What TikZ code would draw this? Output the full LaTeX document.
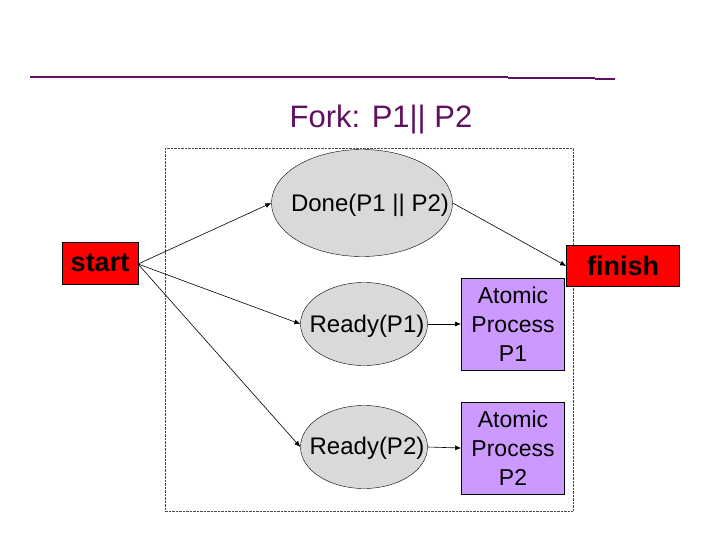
\documentclass[tikz,border=0pt]{standalone}
\usepackage{fontspec}
\setmainfont{Liberation Sans}
\usetikzlibrary{shapes.geometric,arrows.meta}
\definecolor{plum}{RGB}{96,16,96}
\definecolor{lav}{RGB}{204,153,255}
\begin{document}
\begin{tikzpicture}[x=1pt,y=-1pt,
  state/.style={ellipse,draw=black,fill=black!15,inner sep=0pt},
  lbl/.style={font=\fontsize{24}{30}\selectfont,inner sep=0pt},
  atom/.style={draw=black,thick,fill=lav,minimum width=103pt,minimum height=92pt,align=center,font=\fontsize{23}{29}\selectfont},
  term/.style={draw=black,thick,fill=red,font=\bfseries\fontsize{27}{30}\selectfont,inner sep=2pt},
  arr/.style={semithick,-{Latex[length=6pt,width=5pt]}}]
\useasboundingbox (0,0) rectangle (720,540);
\draw[plum,line width=2pt] (30,77) -- (508,77);
\draw[plum,line width=1.5pt] (508,78) -- (595,78);
\draw[plum,line width=2.5pt] (595,79) -- (615,79);
\node[plum,font=\fontsize{31}{36}\selectfont] (title) at (381,120) {Fork: P1|| P2};
\draw[densely dotted,black!70] (165,148) rectangle (573,511);
\node[state,minimum width=181pt,minimum height=107pt] (done) at (362,203) {};
\node[lbl] (donetxt) at (370,205) {Done(P1 || P2)};
\node[state,minimum width=127pt,minimum height=83pt] (r1) at (364,324) {};
\node[lbl] (r1txt) at (367,326) {Ready(P1)};
\node[state,minimum width=127pt,minimum height=83pt] (r2) at (364,447) {};
\node[lbl] (r2txt) at (367,448) {Ready(P2)};
\node[atom] (a1) at (513,324) {Atomic\\Process\\P1};
\node[atom] (a2) at (513,448) {Atomic\\Process\\P2};
\node[term,minimum width=76pt,minimum height=42pt] (start) at (100,263) {start};
\node[term,minimum width=113pt,minimum height=41pt] (finish) at (623,266) {finish};
\coordinate (s0) at (138,264);
\draw[arr] (s0) -- (done.west);
\draw[arr] (s0) -- (r1.west);
\draw[arr] (s0) -- (r2.west);
\draw[arr] (done.east) -- (finish.west);
\draw[arr] (r1.east) -- (a1.west);
\draw[arr] (r2.east) -- (a2.west);
\end{tikzpicture}
\end{document}
